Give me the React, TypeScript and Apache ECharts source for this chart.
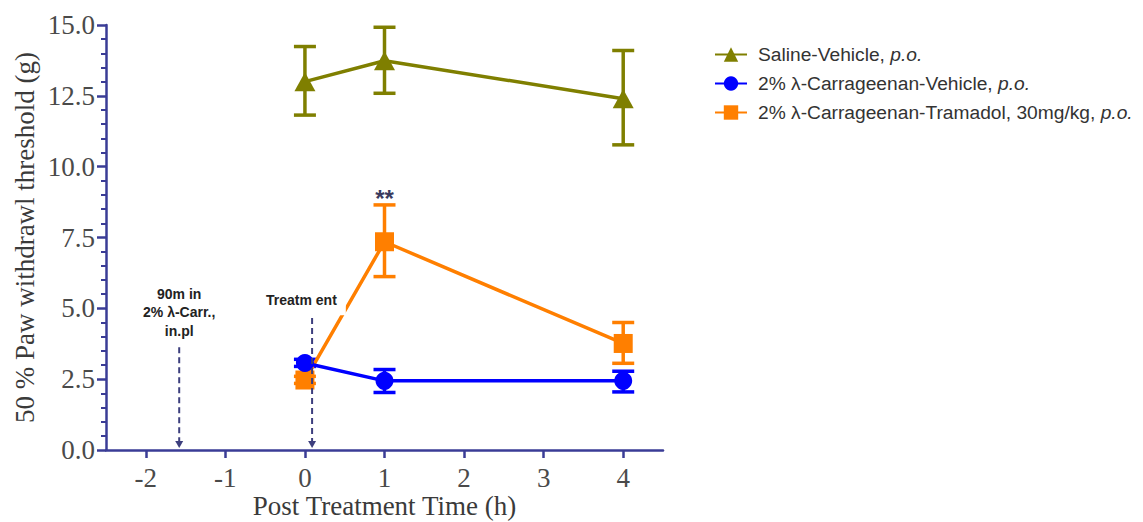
import React, { useEffect, useRef } from "react";
import * as echarts from "echarts";

// ---- data ----
const timePoints = [0, 1, 4];
const xTicks = [-2, -1, 0, 1, 2, 3, 4];

const salineMean = [13.0, 13.74, 12.4];
const salineLow = [11.82, 12.59, 10.77];
const salineHigh = [14.24, 14.92, 14.1];

const carrVehMean = [3.07, 2.44, 2.44];
const carrVehLow = [2.95, 2.03, 2.05];
const carrVehHigh = [3.2, 2.84, 2.78];

const tramadolMean = [2.47, 7.35, 3.76];
const tramadolLow = [2.35, 6.12, 3.06];
const tramadolHigh = [2.6, 8.65, 4.5];

const seriesNames = [
  "Saline-Vehicle, p.o.",
  "2% λ-Carrageenan-Vehicle, p.o.",
  "2% λ-Carrageenan-Tramadol, 30mg/kg, p.o.",
];

// annotation arrows: x position, top value of the dashed arrow
const arrowX = [-1.58, 0.09];
const arrowTop = [3.63, 4.66];
// annotation texts
const noteTexts = ["90m in\n2% λ-Carr.,\nin.pl", "Treatm ent"];
const noteX = [-1.58, 0.0];
const noteY = [4.87, 5.29];
// significance mark
const sigText = "**";
const sigX = 1;
const sigY = 9.07;

const OLIVE = "#7f7f00";
const BLUE = "#0000ff";
const ORANGE = "#ff7f00";
const AXIS = "#3a3c96";
const SERIF = "'Liberation Serif', 'Times New Roman', serif";
const SANS = "'Liberation Sans', Arial, sans-serif";

function pts(means: number[]) {
  return timePoints.map((t, i) => [t, means[i]]);
}
function errData(low: number[], high: number[]) {
  return timePoints.map((t, i) => [t, low[i], high[i]]);
}

function errorBarSeries(id: string, color: string, data: number[][], z: number) {
  return {
    type: "custom",
    name: id,
    silent: true,
    z,
    encode: { x: 0, y: [1, 2] },
    data,
    renderItem: (_params: any, api: any) => {
      const x = api.value(0);
      const lo = api.value(1);
      const hi = api.value(2);
      const pHi = api.coord([x, hi]);
      const pLo = api.coord([x, lo]);
      const hw = 11;
      const style = { stroke: color, lineWidth: 3.5 };
      return {
        type: "group",
        children: [
          { type: "line", shape: { x1: pHi[0], y1: pHi[1], x2: pLo[0], y2: pLo[1] }, style },
          { type: "line", shape: { x1: pHi[0] - hw, y1: pHi[1], x2: pHi[0] + hw, y2: pHi[1] }, style },
          { type: "line", shape: { x1: pLo[0] - hw, y1: pLo[1], x2: pLo[0] + hw, y2: pLo[1] }, style },
        ],
      };
    },
  };
}

function legendFormatter(name: string) {
  const idx = name.lastIndexOf("p.o.");
  const head = name.slice(0, idx);
  return `{n|${head}}{i|p.o.}`;
}

export default function App() {
  const ref = useRef<HTMLDivElement>(null);

  useEffect(() => {
    if (!ref.current) return;
    const chart = echarts.init(ref.current, undefined, { renderer: "svg" });

    const option: any = {
      animation: false,
      backgroundColor: "#ffffff",
      grid: { left: 106, right: 480, top: 25, bottom: 72, outerBoundsMode: "none", containLabel: false },
      legend: {
        data: seriesNames,
        orient: "vertical",
        left: 709,
        top: 40,
        itemWidth: 32,
        itemHeight: 18,
        itemGap: 10,
        selectedMode: false,
        formatter: legendFormatter,
        textStyle: {
          rich: {
            n: { fontFamily: SANS, fontSize: 19.2, color: "#333333", padding: [0, 0, 0, 6] },
            i: { fontFamily: SANS, fontSize: 19.2, color: "#333333", fontStyle: "italic" },
          },
        },
      },
      xAxis: {
        type: "value",
        min: -2.5,
        max: 4.5,
        splitLine: { show: false },
        axisLine: { show: true, onZero: false, lineStyle: { color: AXIS, width: 2.5 } },
        axisTick: {
          show: true,
          customValues: xTicks,
          length: 8,
          lineStyle: { color: AXIS, width: 2.5 },
        },
        axisLabel: {
          customValues: xTicks,
          fontFamily: SERIF,
          fontSize: 27,
          color: "#4a4a4a",
          margin: 14,
        },
        name: "Post Treatment Time (h)",
        nameLocation: "middle",
        nameGap: 42,
        nameMoveOverlap: false,
        nameTextStyle: { fontFamily: SERIF, fontSize: 27, lineHeight: 28, color: "#3a3a3a" },
      },
      yAxis: {
        type: "value",
        min: 0,
        max: 15,
        interval: 2.5,
        splitLine: { show: false },
        axisLine: { show: true, onZero: false, lineStyle: { color: AXIS, width: 2.5 } },
        axisTick: { show: true, length: 9, lineStyle: { color: AXIS, width: 2.5 } },
        minorTick: { show: true, splitNumber: 5, length: 5, lineStyle: { color: AXIS, width: 2 } },
        axisLabel: {
          fontFamily: SERIF,
          fontSize: 27,
          color: "#4a4a4a",
          margin: 11,
          formatter: (v: number) => v.toFixed(1),
        },
        name: "50 % Paw withdrawl threshold (g)",
        nameLocation: "middle",
        nameGap: 68,
        nameTextStyle: { fontFamily: SERIF, fontSize: 27, color: "#3a3a3a" },
      },
      series: [
        errorBarSeries("err-saline", OLIVE, errData(salineLow, salineHigh), 3),
        errorBarSeries("err-veh", BLUE, errData(carrVehLow, carrVehHigh), 3),
        errorBarSeries("err-tram", ORANGE, errData(tramadolLow, tramadolHigh), 3),
        {
          type: "line",
          name: seriesNames[0],
          data: pts(salineMean),
          symbol: "triangle",
          symbolSize: [21, 19],
          itemStyle: { color: OLIVE },
          lineStyle: { color: OLIVE, width: 3.5 },
          z: 4,
        },
        {
          type: "line",
          name: seriesNames[2],
          data: pts(tramadolMean),
          symbol: "rect",
          symbolSize: 19,
          itemStyle: { color: ORANGE },
          lineStyle: { color: ORANGE, width: 3.5 },
          z: 4,
        },
        {
          type: "line",
          name: seriesNames[1],
          data: pts(carrVehMean),
          symbol: "circle",
          symbolSize: 18,
          itemStyle: { color: BLUE },
          lineStyle: { color: BLUE, width: 3.5 },
          z: 5,
        },
        {
          type: "custom",
          name: "arrows",
          silent: true,
          z: 6,
          encode: { x: 0, y: 1 },
          data: arrowX.map((x, i) => [x, arrowTop[i]]),
          renderItem: (_p: any, api: any) => {
            const x = api.value(0);
            const top = api.coord([x, api.value(1)]);
            const bot = api.coord([x, 0]);
            const tipY = bot[1] - 2;
            return {
              type: "group",
              children: [
                {
                  type: "line",
                  shape: { x1: top[0], y1: top[1], x2: top[0], y2: tipY - 6 },
                  style: { stroke: "#3d3f7e", lineWidth: 2, lineDash: [6, 4] },
                },
                {
                  type: "polygon",
                  shape: {
                    points: [
                      [top[0] - 4, tipY - 7],
                      [top[0] + 4, tipY - 7],
                      [top[0], tipY],
                    ],
                  },
                  style: { fill: "#3d3f7e" },
                },
              ],
            };
          },
        },
        {
          type: "custom",
          name: "notes",
          silent: true,
          z: 7,
          encode: { x: 0, y: 1 },
          data: noteX.map((x, i) => [x, noteY[i], i]),
          renderItem: (_p: any, api: any) => {
            const i = api.value(2);
            const p = api.coord([api.value(0), api.value(1)]);
            const isTreatment = i === 1;
            return {
              type: "text",
              x: p[0],
              y: p[1],
              style: {
                text: noteTexts[i],
                fill: "#222222",
                font: `bold 14px ${SANS}`,
                align: "center",
                verticalAlign: "middle",
                lineHeight: 18.5,
                backgroundColor: isTreatment ? "#ffffff" : undefined,
                padding: isTreatment ? [2, 9, 10, 2] : 0,
              },
            };
          },
        },
        {
          type: "custom",
          name: "sig",
          silent: true,
          z: 7,
          encode: { x: 0, y: 1 },
          data: [[sigX, sigY]],
          renderItem: (_p: any, api: any) => {
            const p = api.coord([api.value(0), api.value(1)]);
            return {
              type: "text",
              x: p[0],
              y: p[1] + 5,
              style: {
                text: sigText,
                fill: "#3b3b5e",
                font: `bold 24px ${SANS}`,
                align: "center",
                verticalAlign: "middle",
              },
            };
          },
        },
      ],
    };

    chart.setOption(option);
    return () => chart.dispose();
  }, []);

  return (
    <div
      ref={ref}
      style={{ position: "fixed", left: 0, top: 0, width: 1143, height: 522, background: "#fff" }}
    />
  );
}
